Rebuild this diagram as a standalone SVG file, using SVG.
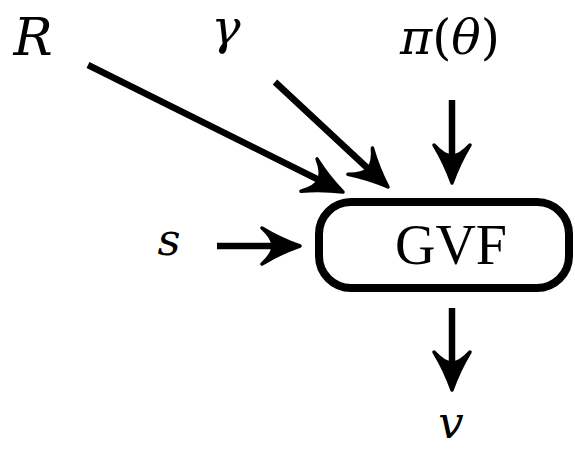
<svg xmlns="http://www.w3.org/2000/svg" xmlns:xlink="http://www.w3.org/1999/xlink" width="575" height="453" viewBox="0 0 575 453">
<style>
.lbl{font-family:"DejaVu Serif",serif;font-style:italic;fill:#000;text-anchor:middle}
.up{font-style:normal}
.shaft{stroke:#000;stroke-width:6.5;fill:none;stroke-linecap:butt}
.box{fill:#fff;stroke:#000;stroke-width:8}
.nodeText{font-family:"Liberation Serif","Times New Roman",serif;font-size:56px;fill:#000;text-anchor:middle}
</style>
<defs>
<path id="head" d="M0,0 Q-20,-7 -38,-18 Q-27,-8 -27,0 Q-27,8 -38,18 Q-20,7 0,0 Z" fill="#000" stroke="#000" stroke-width="3.5" stroke-linejoin="round"/>
</defs>
<g id="node-GVF">
<rect class="box" x="319" y="202" width="250" height="86" rx="32" ry="32"/>
<text class="nodeText" x="451" y="264">GVF</text>
</g>
<g id="node-R"><text class="lbl" x="33" y="55" font-size="52">R</text></g>
<g id="node-gamma"><text class="lbl" x="226" y="44" font-size="49">γ</text></g>
<g id="node-pi"><text class="lbl" x="450" y="54" font-size="49">π<tspan class="up">(</tspan>θ<tspan class="up">)</tspan></text></g>
<g id="node-s"><text class="lbl" x="169" y="255" font-size="45">s</text></g>
<g id="node-v"><text class="lbl" x="451" y="438" font-size="45">v</text></g>
<g id="connectors">
<line class="shaft" x1="88" y1="65" x2="322" y2="181.5"/>
<use xlink:href="#head" transform="translate(343,192) rotate(26.5)"/>
<line class="shaft" x1="275" y1="82" x2="370" y2="170.5"/>
<use xlink:href="#head" transform="translate(388,187) rotate(42.9)"/>
<line class="shaft" x1="452" y1="100" x2="452" y2="158"/>
<use xlink:href="#head" transform="translate(452,183) rotate(90)"/>
<line class="shaft" x1="452" y1="308" x2="452" y2="365"/>
<use xlink:href="#head" transform="translate(452,390) rotate(90)"/>
<line class="shaft" x1="217" y1="246" x2="276" y2="246"/>
<use xlink:href="#head" transform="translate(300,246)"/>
</g>
</svg>
